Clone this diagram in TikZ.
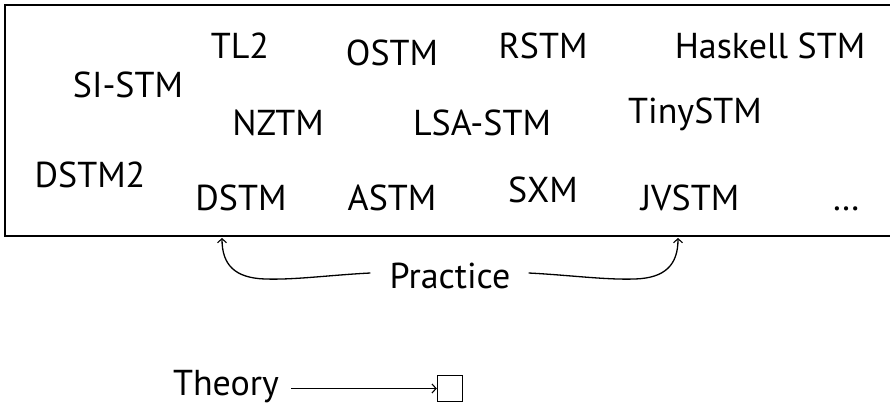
\documentclass[tikz,border=0pt]{standalone}
\usepackage{fontspec}
\setmainfont{PT Sans}
\usetikzlibrary{arrows.meta}
\begin{document}
\begin{tikzpicture}[x=1pt,y=-1pt,
  lbl/.style={anchor=base,inner sep=0pt,font=\fontsize{36}{40}\selectfont},
  frame/.style={line width=1.6pt},
  tip/.style={-{Straight Barb[length=4pt,width=9pt,line width=1.1pt]}},
  brace/.style={line width=1.3pt,tip},
  smallbox/.style={draw,line width=1.5pt,minimum width=25pt,minimum height=26pt,inner sep=0pt}]
\useasboundingbox (0,0) rectangle (890,404);
\clip (0,0) rectangle (890,404);
% open frame around the implementations
\draw[frame] (900,5) -- (5,5) -- (5,236) -- (900,236);
% implementations
\node[lbl] (tl2)     at (240,59)  {TL2};
\node[lbl] (ostm)    at (392,65)  {OSTM};
\node[lbl] (rstm)    at (543,59)  {RSTM};
\node[lbl] (haskell) at (770,59)  {Haskell STM};
\node[lbl] (sistm)   at (128,97)  {SI-STM};
\node[lbl] (nztm)    at (278,135) {NZTM};
\node[lbl] (lsastm)  at (482,135) {LSA-STM};
\node[lbl] (tinystm) at (695,123) {TinySTM};
\node[lbl] (dstmtwo) at (90,187)  {DSTM2};
\node[lbl] (dstm)    at (241,210) {DSTM};
\node[lbl] (astm)    at (392,210) {ASTM};
\node[lbl] (sxm)     at (543,202) {SXM};
\node[lbl] (jvstm)   at (690,210) {JVSTM};
\node[lbl] (more)    at (846,210) {\ldots};
% practice brace
\node[lbl] (practice) at (450,288) {Practice};
\coordinate (lefttip)  at (222,238);
\coordinate (righttip) at (678,238);
\draw[brace] ([xshift=-19pt,yshift=15pt]practice.base west)
  .. controls +(-40,2) and (295,280) .. (265,279)
  .. controls (235,278) and (222,265) .. (lefttip);
\draw[brace] ([xshift=18pt,yshift=15pt]practice.base east)
  .. controls +(40,2) and (605,280) .. (635,279)
  .. controls (665,278) and (678,265) .. (righttip);
% theory
\node[lbl] (theory) at (226,395) {Theory};
\node[smallbox] (sq) at (450,388.5) {};
\draw[line width=1.3pt,tip] ([xshift=12pt]theory.east |- sq.west) -- (sq.west);
\end{tikzpicture}
\end{document}
